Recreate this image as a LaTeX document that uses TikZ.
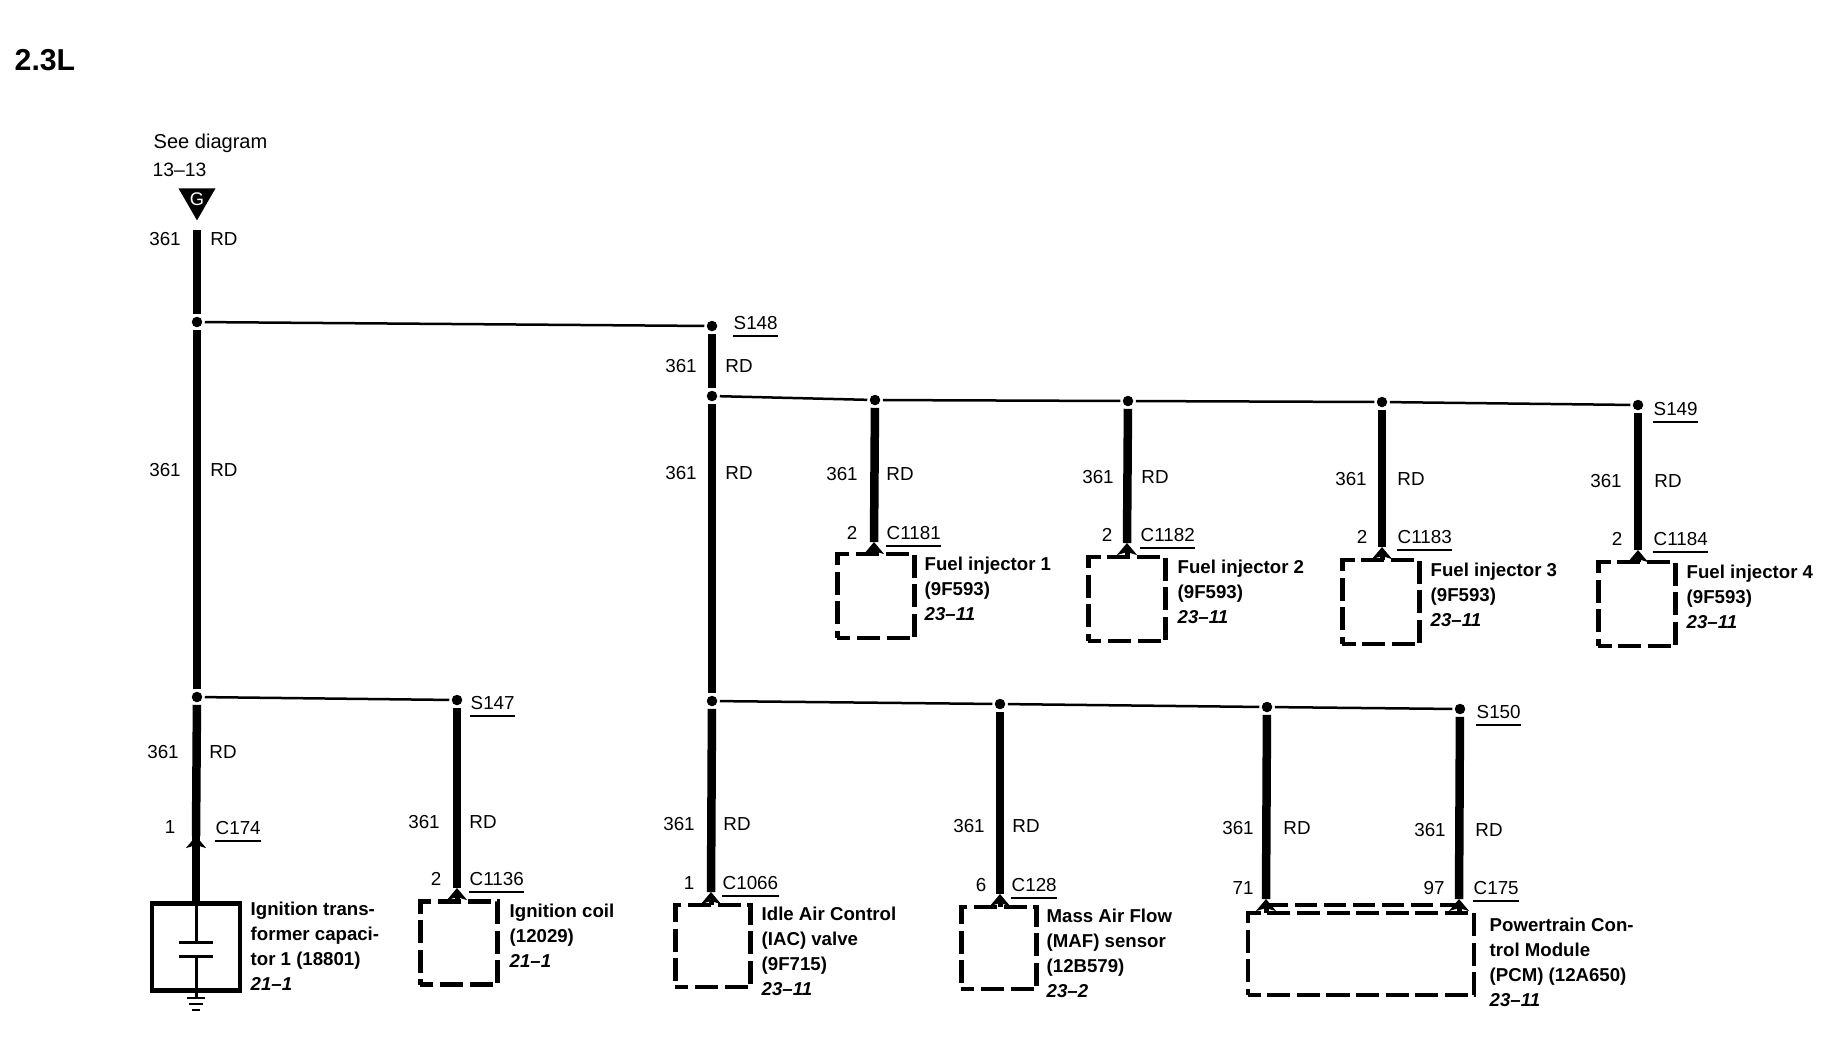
\documentclass[tikz,border=0pt]{standalone}
\usepackage{fontspec}
\setmainfont{Liberation Sans}
\usetikzlibrary{positioning}
\usetikzlibrary{arrows.meta}
\usetikzlibrary{shapes.geometric}
\tikzset{
	wire/.style={line width=.085cm}, % thick runs
	splice/.style={line width=.025cm}, % thin runs between splices
	dot/.style={circle, fill=black, minimum size=.105cm, inner sep=0pt, outer sep=.025cm},
	pinmark/.style={-{Stealth[length=.12cm, width=.2cm, inset=.03cm]}, line width=.05cm},
	devbox/.style={draw, line width=.045cm, inner sep=0pt, outer sep=0pt},
	dashbox/.style={devbox, dash pattern=on .23cm off .065cm, dash phase=.1cm},
	wirelabel/.style={font=\fontsize{5.35pt}{7pt}\selectfont, inner sep=0pt},
	taglabel/.style={font=\fontsize{5.35pt}{7pt}\selectfont, anchor=west, inner xsep=0pt, inner ysep=.06cm, text height=.13cm, text depth=0pt},
	partlabel/.style={font=\fontsize{5.3pt}{7.1pt}\selectfont\bfseries, anchor=north west, align=left, inner sep=0pt}
}
\begin{document}
\begin{tikzpicture}[x=.01cm, y=-.01cm]
	\useasboundingbox (1,0) rectangle (1849,1056);

	% Headings
	\node (engine) [anchor=base west, inner sep=0pt, font=\fontsize{8.6pt}{9pt}\selectfont\bfseries] at (15,70) {2.3L};
	\node (see) [anchor=base west, inner sep=0pt, font=\fontsize{5.7pt}{7pt}\selectfont] at (154,148) {See diagram};
	\node (page) [anchor=base west, inner sep=0pt, font=\fontsize{5.5pt}{7pt}\selectfont] at (153,176) {13--13};
	\node (feed) [regular polygon, regular polygon sides=3, shape border rotate=180, fill=black, text=white, minimum size=.427cm, inner sep=0pt, font=\fontsize{5.2pt}{5pt}\selectfont] at (198,199) {G};
	\coordinate (feedend) at (198,230);

	% Splices
	\foreach \name/\x/\y in {j1/198/322, s148/713/326, j2/713/396, j3/876/400, j4/1129/401, j5/1383/402, s149/1639/405,
			j6/198/697, s147/458/700, j7/713/701, j8/1001/704, j9/1268/707, s150/1461/709}
		\node (\name) [dot] at (\x,\y) {};

	% Devices
	\node (cap) [devbox, minimum width=.88cm, minimum height=.87cm] at (197,947) {};
	\node (coil) [dashbox, minimum width=.77cm, minimum height=.83cm] at (460,943) {};
	\node (iac) [dashbox, minimum width=.75cm, minimum height=.82cm] at (714,946) {};
	\node (maf) [dashbox, minimum width=.75cm, minimum height=.82cm] at (1000,948) {};
	\node (pcm) [dashbox, minimum width=2.26cm, minimum height=.82cm] at (1362,954) {};
	\node (inj1) [dashbox, minimum width=.77cm, minimum height=.84cm] at (877,596) {};
	\node (inj2) [dashbox, minimum width=.77cm, minimum height=.84cm] at (1128,599) {};
	\node (inj3) [dashbox, minimum width=.77cm, minimum height=.84cm] at (1382,602) {};
	\node (inj4) [dashbox, minimum width=.77cm, minimum height=.84cm] at (1638,604) {};

	% Connector pins
	\foreach \name/\x/\y in {pcap/197/836, pcoil/458/888, piac/712/892, pmaf/1001/894, ppcma/1267/899, ppcmb/1460/899,
			pinja/875/542, pinjb/1128/543, pinjc/1383/547, pinjd/1639/550}
		\coordinate (\name) at (\x,\y);

	% Wires
	\foreach \a/\b in {feedend/j1, j1/j6, j6/pcap, pcap/cap.north, s148/j2, j2/j7, j7/piac, s147/pcoil, j8/pmaf, j9/ppcma, s150/ppcmb,
			j3/pinja, j4/pinjb, j5/pinjc, s149/pinjd}
		\draw[wire] (\a) -- (\b);
	\foreach \a/\b in {j1/s148, j2/j3, j3/j4, j4/j5, j5/s149, j6/s147, j7/j8, j8/j9, j9/s150}
		\draw[splice] (\a) -- (\b);

	% Pin arrows
	\foreach \p/\b in {pcap/cap, pcoil/coil, piac/iac, pmaf/maf, ppcma/pcm, ppcmb/pcm, pinja/inj1, pinjb/inj2, pinjc/inj3, pinjd/inj4}
		\draw[pinmark] (\p |- \b.north) -- (\p);
	\coordinate (pcmlinea) at (1267,905);
	\coordinate (pcmlineb) at (1460,905);
	\draw[line width=.035cm, dash pattern=on .22cm off .07cm] (pcmlinea) -- (pcmlineb);

	% Capacitor and ground
	\coordinate (plateup) at (197,942);
	\coordinate (platedown) at (197,956);
	\coordinate (gnd) at (197,998);
	\coordinate (gndb) at (197,1004);
	\coordinate (gndc) at (197,1010);
	\draw[line width=.03cm] (cap.north) -- (plateup);
	\draw[line width=.03cm] (platedown) -- (cap.south) -- (gnd);
	\draw[line width=.03cm] ([xshift=-.17cm]plateup) -- ([xshift=.17cm]plateup);
	\draw[line width=.03cm] ([xshift=-.17cm]platedown) -- ([xshift=.17cm]platedown);
	\draw[line width=.025cm] ([xshift=-.09cm]gnd) -- ([xshift=.09cm]gnd);
	\draw[line width=.025cm] ([xshift=-.07cm]gndb) -- ([xshift=.07cm]gndb);
	\draw[line width=.025cm] ([xshift=-.04cm]gndc) -- ([xshift=.04cm]gndc);

	% Circuit number and colour
	\foreach \n/\xa/\xb/\y in {a/166/225/239, b/166/225/470, c/164/224/752, d/682/740/366, e/682/740/473,
			f/843/901/474, g/1099/1156/477, h/1352/1412/479, i/1607/1669/481,
			k/425/484/822, l/680/738/824, m/970/1027/826, o/1239/1298/828, q/1431/1490/830}{
		\node (num\n) [wirelabel] at (\xa,\y) {361};
		\node (col\n) [wirelabel] at (\xb,\y) {RD};
	}

	% Pin numbers
	\foreach \n/\txt/\x/\y in {a/1/171/827, b/2/437/879, c/1/690/883, d/6/982/885, e/71/1244/888, f/97/1435/888,
			g/2/853/533, h/2/1108/535, i/2/1363/537, k/2/1618/539}
		\node (no\n) [wirelabel] at (\x,\y) {\txt};

	% Connector and splice tags
	\foreach \name/\x/\y in {S148/734/323, S149/1654/409, S147/471/703, S150/1477/712,
			C174/216/828, C1136/470/879, C1066/723/883, C128/1012/885, C175/1474/888,
			C1181/887/533, C1182/1141/535, C1183/1398/537, C1184/1654/539}{
		\node (\name) [taglabel] at (\x,\y) {\name};
		\draw[line width=.018cm] (\name.south west) -- (\name.south east);
	}

	% Device names
	\node (capname) [partlabel] at (251,901) {Ignition trans-\\former capaci-\\tor 1 (18801)\\\itshape 21--1};
	\node (coilname) [partlabel] at (510,903) {Ignition coil\\(12029)\\\itshape 21--1};
	\node (iacname) [partlabel] at (762,906) {Idle Air Control\\(IAC) valve\\(9F715)\\\itshape 23--11};
	\node (mafname) [partlabel] at (1047,908) {Mass Air Flow\\(MAF) sensor\\(12B579)\\\itshape 23--2};
	\node (pcmname) [partlabel] at (1490,917) {Powertrain Con-\\trol Module\\(PCM) (12A650)\\\itshape 23--11};
	\node (injaname) [partlabel] at (925,556) {Fuel injector 1\\(9F593)\\\itshape 23--11};
	\node (injbname) [partlabel] at (1178,559) {Fuel injector 2\\(9F593)\\\itshape 23--11};
	\node (injcname) [partlabel] at (1431,562) {Fuel injector 3\\(9F593)\\\itshape 23--11};
	\node (injdname) [partlabel] at (1687,564) {Fuel injector 4\\(9F593)\\\itshape 23--11};
\end{tikzpicture}
\end{document}
